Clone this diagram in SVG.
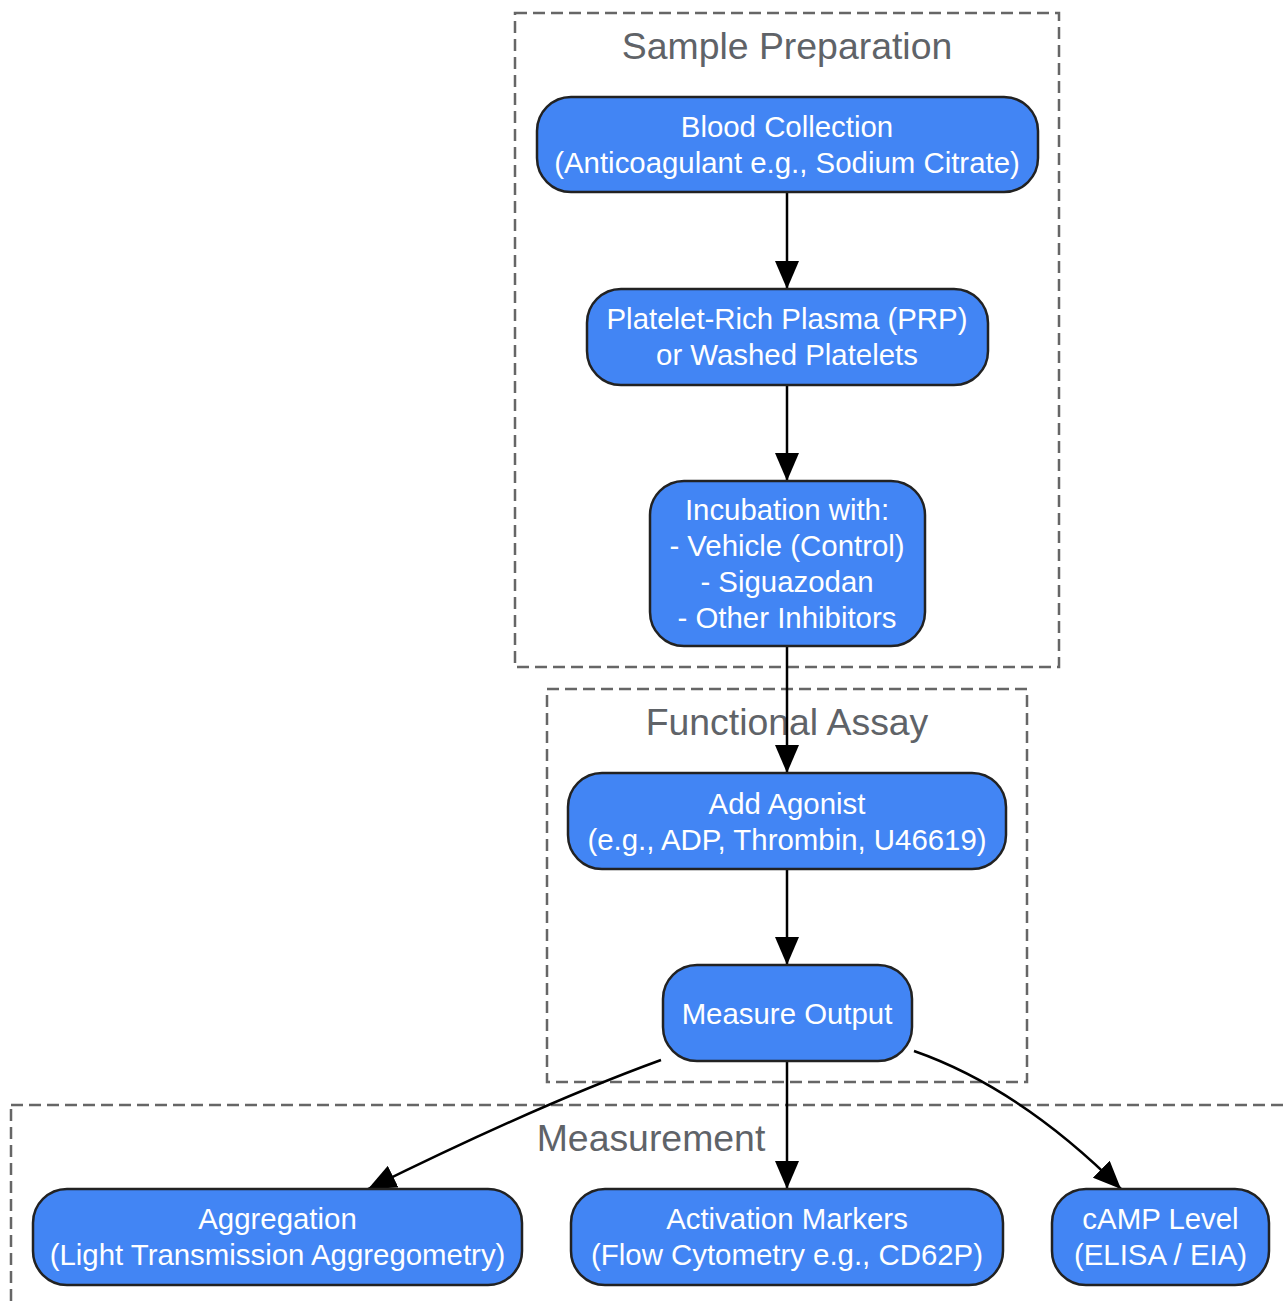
<svg xmlns="http://www.w3.org/2000/svg" width="1288" height="1302" viewBox="0 0 1288 1302">
<style>
.cluster{fill:#ffffff;stroke:#666666;stroke-width:2.5;stroke-dasharray:12 6;}
.ctitle{font-family:"Liberation Sans",Arial,sans-serif;font-size:37.4px;fill:#5f6368;text-anchor:middle;}
.node rect{fill:#4285F4;stroke:#222222;stroke-width:2.5;}
.node text{font-family:"Liberation Sans",Arial,sans-serif;font-size:29.4px;fill:#ffffff;text-anchor:middle;}
.edge{fill:none;stroke:#000000;stroke-width:2.5;}
</style>
<defs>
<marker id="arrow" markerUnits="userSpaceOnUse" markerWidth="30" markerHeight="24" refX="28" refY="12" orient="auto">
<path d="M0,0 L28,12 L0,24 Z" fill="#000000"/>
</marker>
</defs>
<rect width="1288" height="1302" fill="#ffffff"/>
<g id="clusters">
<g id="cluster-sample-preparation">
<rect class="cluster" x="515" y="13" width="544" height="654"/>
<text class="ctitle" x="787" y="59">Sample Preparation</text>
</g>
<g id="cluster-functional-assay">
<rect class="cluster" x="547" y="689" width="480" height="393"/>
<text class="ctitle" x="787" y="735">Functional Assay</text>
</g>
<g id="cluster-measurement">
<rect class="cluster" x="11" y="1105" width="1300" height="220"/>
<text class="ctitle" x="651" y="1151">Measurement</text>
</g>
</g>
<g id="connectors">
<path class="edge" d="M787,192 L787,289" marker-end="url(#arrow)"/>
<path class="edge" d="M787,385 L787,481" marker-end="url(#arrow)"/>
<path class="edge" d="M787,647 L787,773" marker-end="url(#arrow)"/>
<path class="edge" d="M787,869 L787,965" marker-end="url(#arrow)"/>
<path class="edge" d="M661,1060 Q540,1104 368,1189" marker-end="url(#arrow)"/>
<path class="edge" d="M787,1061 L787,1189" marker-end="url(#arrow)"/>
<path class="edge" d="M914,1051 Q1020,1088 1121,1189" marker-end="url(#arrow)"/>
</g>
<g id="node-blood" class="node">
<rect x="537" y="97" width="501" height="95" rx="34"/>
<text x="787" y="137">Blood Collection</text>
<text x="787" y="173">(Anticoagulant e.g., Sodium Citrate)</text>
</g>
<g id="node-prp" class="node">
<rect x="587" y="289" width="401" height="96" rx="34"/>
<text x="787" y="329">Platelet-Rich Plasma (PRP)</text>
<text x="787" y="365">or Washed Platelets</text>
</g>
<g id="node-incubation" class="node">
<rect x="650" y="481" width="275" height="165" rx="34"/>
<text x="787" y="520">Incubation with:</text>
<text x="787" y="556">- Vehicle (Control)</text>
<text x="787" y="592">- Siguazodan</text>
<text x="787" y="628">- Other Inhibitors</text>
</g>
<g id="node-agonist" class="node">
<rect x="568" y="773" width="438" height="96" rx="34"/>
<text x="787" y="814">Add Agonist</text>
<text x="787" y="850">(e.g., ADP, Thrombin, U46619)</text>
</g>
<g id="node-measure" class="node">
<rect x="663" y="965" width="249" height="96" rx="34"/>
<text x="787" y="1024">Measure Output</text>
</g>
<g id="node-aggregation" class="node">
<rect x="33" y="1189" width="489" height="96" rx="34"/>
<text x="277.5" y="1229">Aggregation</text>
<text x="277.5" y="1265">(Light Transmission Aggregometry)</text>
</g>
<g id="node-activation" class="node">
<rect x="571" y="1189" width="432" height="96" rx="34"/>
<text x="787" y="1229">Activation Markers</text>
<text x="787" y="1265">(Flow Cytometry e.g., CD62P)</text>
</g>
<g id="node-camp" class="node">
<rect x="1052" y="1189" width="217" height="96" rx="34"/>
<text x="1160.5" y="1229">cAMP Level</text>
<text x="1160.5" y="1265">(ELISA / EIA)</text>
</g>
</svg>
